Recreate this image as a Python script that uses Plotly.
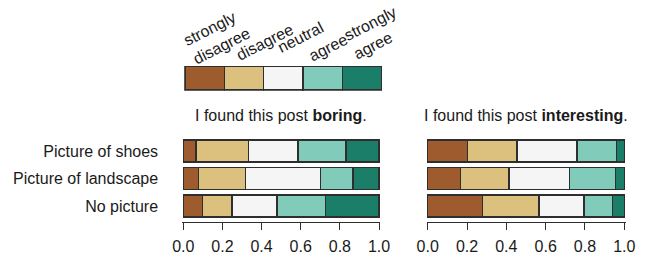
import plotly.graph_objects as go

# ---------------- data ----------------
levels = ["strongly<br>disagree", "disagree", "neutral", "agree", "strongly<br>agree"]
colors = ["#9e5b2d", "#dcc17e", "#f5f5f5", "#80cbb9", "#1a7e68"]
categories = ["No picture", "Picture of landscape", "Picture of shoes"]

# proportions per level, in category order above
boring_sd = [0.099, 0.079, 0.065]
boring_d = [0.150, 0.238, 0.269]
boring_n = [0.231, 0.385, 0.251]
boring_a = [0.246, 0.164, 0.245]
boring_sa = [0.274, 0.134, 0.170]

interesting_sd = [0.278, 0.168, 0.203]
interesting_d = [0.287, 0.246, 0.251]
interesting_n = [0.231, 0.306, 0.306]
interesting_a = [0.144, 0.236, 0.201]
interesting_sa = [0.060, 0.044, 0.039]

legend_units = [1, 1, 1, 1, 1]

tick_vals = [0, 0.2, 0.4, 0.6, 0.8, 1.0]
tick_text = ["0.0", "0.2", "0.4", "0.6", "0.8", "1.0"]

titles = ["I found this post <b>boring</b>.", "I found this post <b>interesting</b>."]

# ---------------- figure ----------------
# page body has an 8px default margin; work in window pixel coordinates
OFF = 8
W, H = 646 - OFF, 261 - OFF
FONT = "Liberation Sans, Arial, sans-serif"
TXT = "#1a1a1a"
EDGE = "#2e2e2e"

def px(x):
    return (x - OFF) / W

def py(y):
    return 1 - (y - OFF) / H

fig = go.Figure()

boring = [boring_sd, boring_d, boring_n, boring_a, boring_sa]
interesting = [interesting_sd, interesting_d, interesting_n, interesting_a, interesting_sa]

for i, vals in enumerate(boring):
    fig.add_trace(go.Bar(x=vals, y=categories, orientation="h", xaxis="x", yaxis="y",
                         marker=dict(color=colors[i], line=dict(color=EDGE, width=1.5)),
                         width=0.8, showlegend=False, hoverinfo="skip"))
for i, vals in enumerate(interesting):
    fig.add_trace(go.Bar(x=vals, y=categories, orientation="h", xaxis="x2", yaxis="y2",
                         marker=dict(color=colors[i], line=dict(color=EDGE, width=1.5)),
                         width=0.8, showlegend=False, hoverinfo="skip"))

# legend color bar
base = [sum(legend_units[:i]) for i in range(len(legend_units))]
fig.add_trace(go.Bar(x=legend_units, base=base, y=[0] * 5, orientation="h",
                     xaxis="x3", yaxis="y3", width=1,
                     marker=dict(color=colors, line=dict(color=EDGE, width=1.5)),
                     showlegend=False, hoverinfo="skip"))

pad = 0.006
xax = dict(range=[-pad, 1 + pad], showgrid=False, zeroline=False, showline=True,
           linecolor=EDGE, linewidth=1.3, ticks="outside", ticklen=7, tickwidth=1.3,
           tickcolor=EDGE, tickvals=tick_vals, ticktext=tick_text, automargin=False,
           ticklabelstandoff=3,
           tickfont=dict(family=FONT, size=16, color=TXT), fixedrange=True)

ydom = [py(222), py(136)]
yrange = [-0.58, 2.55]

fig.update_layout(
    width=W, height=H, margin=dict(l=0, r=0, t=0, b=0, pad=0), autosize=False,
    paper_bgcolor="white", plot_bgcolor="white",
    barmode="stack", bargap=0.2,
    font=dict(family=FONT, size=16, color=TXT),
    xaxis=dict(domain=[px(182.1), px(380.2)], anchor="y", **xax),
    xaxis2=dict(domain=[px(426.5), px(625.5)], anchor="y2", **xax),
    yaxis=dict(domain=ydom, anchor="x", type="category", categoryorder="array",
               categoryarray=categories, range=yrange, showgrid=False, zeroline=False,
               showline=False, ticks="", ticklabelstandoff=23, automargin=False,
               tickfont=dict(family=FONT, size=16, color=TXT)),
    yaxis2=dict(domain=ydom, anchor="x2", type="category", categoryorder="array",
                categoryarray=categories, range=yrange, showgrid=False, zeroline=False,
                showline=False, ticks="", showticklabels=False, automargin=False),
    xaxis3=dict(domain=[px(184.2), px(382.5)], anchor="y3", range=[-0.02, 5.02],
                visible=False, fixedrange=True, automargin=False),
    yaxis3=dict(domain=[py(90.8), py(65.9)], anchor="x3", range=[-0.535, 0.535],
                visible=False, fixedrange=True, automargin=False),
)

# panel titles
fig.add_annotation(text=titles[0], x=px(281), y=py(115), xref="paper", yref="paper",
                   xanchor="center", yanchor="middle", showarrow=False,
                   font=dict(family=FONT, size=16, color=TXT))
fig.add_annotation(text=titles[1], x=px(526), y=py(115), xref="paper", yref="paper",
                   xanchor="center", yanchor="middle", showarrow=False,
                   font=dict(family=FONT, size=16, color=TXT))

# rotated legend labels
label_centers = [(216.5, 36.5), (264, 42), (300, 37), (328.5, 48), (375, 33)]
for lab, (cx, cy) in zip(levels, label_centers):
    fig.add_annotation(text=lab, x=px(cx), y=py(cy), xref="paper", yref="paper",
                       xanchor="center", yanchor="middle", showarrow=False,
                       textangle=-27, align="left",
                       font=dict(family=FONT, size=16, color=TXT))

fig.write_html("out.html")
